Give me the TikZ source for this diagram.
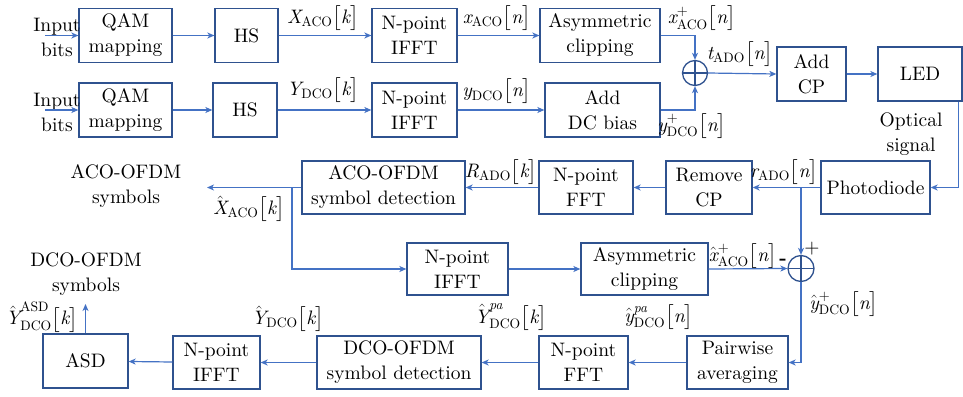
\documentclass[tikz,border=0pt]{standalone}
\usepackage{fontspec}
\setmainfont{lmroman10}[Extension=.otf, UprightFont=*-regular, ItalicFont=*-italic, BoldFont=*-bold, BoldItalicFont=*-bolditalic]
\usepackage{amsmath}
\usetikzlibrary{arrows.meta}
\definecolor{boxblue}{RGB}{47,82,143}
\definecolor{linblue}{RGB}{68,114,196}
\newcommand{\tv}[1]{\text{\itshape #1}}
\newcommand{\tr}[1]{\text{\upshape #1}}
\begin{document}
\begin{tikzpicture}[x=1pt,y=-1pt,
  font=\fontsize{19.5}{25}\selectfont,
  blk/.style={draw=boxblue, line width=1.3pt, minimum height=54, align=center, inner sep=0pt},
  arr/.style={draw=linblue, line width=1.2pt, -{Stealth[length=7pt,width=6pt,inset=2pt]}},
  ln/.style={draw=linblue, line width=1.2pt},
  lbl/.style={inner sep=0pt},
  txt/.style={inner sep=0pt, align=center},
  sumnode/.style={circle, draw=boxblue, line width=1.3pt, minimum size=25, inner sep=0pt,
    path picture={\draw[boxblue, line width=1.3pt] (path picture bounding box.north) -- (path picture bounding box.south)
      (path picture bounding box.west) -- (path picture bounding box.east);}}]
\useasboundingbox (0,0) rectangle (963,396);

% transmitter row 1
\node[blk, minimum width=93] (qam1) at (125.5,35.5) {QAM\\mapping};
\node[blk, minimum width=63] (hs1) at (246.5,35.5) {HS};
\node[blk, minimum width=85] (ifft1) at (414.5,35.5) {N-point\\IFFT};
\node[blk, minimum width=120] (asym1) at (600,35.5) {Asymmetric\\clipping};
% transmitter row 2
\node[blk, minimum width=93] (qam2) at (125.5,110) {QAM\\mapping};
\node[blk, minimum width=64] (hs2) at (245,110) {HS};
\node[blk, minimum width=85] (ifft2) at (414.5,110) {N-point\\IFFT};
\node[blk, minimum width=115] (dcb) at (602.5,110) {Add\\DC bias};
\node[sumnode] (s1) at (695,73) {};
\node[blk, minimum width=69] (addcp) at (811.5,74) {Add\\CP};
\node[blk, minimum width=84] (led) at (920,74) {LED};

% receiver
\node[blk, minimum width=109, minimum height=53] (pd) at (875.5,187.5) {Photodiode};
\node[blk, minimum width=86, minimum height=53] (rcp) at (709,187.5) {Remove\\CP};
\node[blk, minimum width=94, minimum height=53] (fft1) at (586,187.5) {N-point\\FFT};
\node[blk, minimum width=163, minimum height=53] (acodet) at (383.5,187.5) {ACO-OFDM\\symbol detection};
\node[blk, minimum width=101, minimum height=52] (ifft3) at (457.5,269) {N-point\\IFFT};
\node[blk, minimum width=127, minimum height=52] (asym2) at (644.5,269) {Asymmetric\\clipping};
\node[sumnode, minimum size=26] (s2) at (801,268.5) {};
\node[blk, minimum width=101, minimum height=53] (pa) at (737.5,362.5) {Pairwise\\averaging};
\node[blk, minimum width=89, minimum height=53] (fft2) at (583.5,362.5) {N-point\\FFT};
\node[blk, minimum width=164, minimum height=53] (dcodet) at (399,362.5) {DCO-OFDM\\symbol detection};
\node[blk, minimum width=87, minimum height=53] (ifft4) at (216.5,362.5) {N-point\\IFFT};
\node[blk, minimum width=85, minimum height=54] (asd) at (85.5,361) {ASD};

% free texts
\node[txt] (inb1) at (57,37) {Input\\bits};
\node[txt] (inb2) at (57,112) {Input\\bits};
\node[txt] (opt) at (911,134) {Optical\\signal};
\node[txt] (acosym) at (126,186) {ACO-OFDM\\symbols};
\node[txt] (dcosym) at (86,274) {DCO-OFDM\\symbols};

% coordinates
\coordinate (in1) at (45,35.5);
\coordinate (in2) at (45,110);
\coordinate (acoout) at (207,187.5);
\coordinate (br1) at (292,187.5);
\coordinate (asdout) at (85.5,304);

% transmitter connectors
\draw[arr] (in1) -- (qam1.west);
\draw[arr] (in2) -- (qam2.west);
\draw[arr] (qam1) -- (hs1);
\draw[arr] (hs1) -- (ifft1);
\draw[arr] (ifft1) -- (asym1);
\draw[arr] (qam2) -- (hs2);
\draw[arr] (hs2) -- (ifft2);
\draw[arr] (ifft2) -- (dcb);
\draw[arr] (asym1.east) -| (s1.north);
\draw[arr] (dcb.east) -| (s1.south);
\draw[arr] (s1.east) -- (addcp.west);
\draw[arr] (addcp) -- (led);
\draw[arr] ([xshift=-4pt]led.south east) |- (pd.east);

% receiver connectors
\draw[arr] (pd) -- (rcp);
\draw[arr] (s2.north |- pd.west) -- (s2.north);
\draw[arr] (rcp) -- (fft1);
\draw[arr] (fft1) -- (acodet);
\draw[arr] (acodet.west) -- (acoout);
\draw[arr] (br1) |- (ifft3.west);
\draw[arr] (ifft3) -- (asym2);
\draw[arr] (asym2.east) -- (s2.west);
\draw[arr] (s2.south) |- (pa.east);
\draw[arr] (pa) -- (fft2);
\draw[arr] (fft2) -- (dcodet);
\draw[arr] (dcodet) -- (ifft4);
\draw[arr] (ifft4) -- (asd);
\draw[arr] (asd.north) -- (asdout);

% labels
\node[lbl] (l1) at (323,18.5) {$\tv{X}_{\tr{ACO}}\big[\tv{k}\big]$};
\node[lbl] (l2) at (323,90) {$\tv{Y}_{\tr{DCO}}\big[\tv{k}\big]$};
\node[lbl] (l3) at (497,18.5) {$\tv{x}_{\tr{ACO}}\big[\tv{n}\big]$};
\node[lbl] (l4) at (497,91) {$\tv{y}_{\tr{DCO}}\big[\tv{n}\big]$};
\node[lbl] (l5) at (702,18.5) {$\tv{x}^{+}_{\tr{ACO}}\big[\tv{n}\big]$};
\node[lbl] (l6) at (692,126) {$\tv{y}^{+}_{\tr{DCO}}\big[\tv{n}\big]$};
\node[lbl] (l7) at (740,54) {$\tv{t}_{\tr{ADO}}\big[\tv{n}\big]$};
\node[lbl] (l8) at (784,172) {$\tv{r}_{\tr{ADO}}\big[\tv{n}\big]$};
\node[lbl] (l9) at (501,172) {$\tv{R}_{\tr{ADO}}\big[\tv{k}\big]$};
\node[lbl] (l10) at (249,209) {$\hat{\tv{X}}_{\tr{ACO}}\big[\tv{k}\big]$};
\node[lbl] (l11) at (743,256) {$\hat{\tv{x}}^{+}_{\tr{ACO}}\big[\tv{n}\big]$};
\node[lbl] (minus) at (783,262) {\textbf{-}};
\node[lbl] (plus) at (812,249) {+};
\node[lbl] (l12) at (844,304) {$\hat{\tv{y}}^{+}_{\tr{DCO}}\big[\tv{n}\big]$};
\node[lbl] (l13) at (659,317) {$\hat{\tv{y}}^{\tv{pa}}_{\tr{DCO}}\big[\tv{n}\big]$};
\node[lbl] (l14) at (511,317) {$\hat{\tv{Y}}^{\tv{pa}}_{\tr{DCO}}\big[\tv{k}\big]$};
\node[lbl] (l15) at (288,319) {$\hat{\tv{Y}}_{\tr{DCO}}\big[\tv{k}\big]$};
\node[lbl] (l16) at (42,317) {$\hat{\tv{Y}}^{\tr{ASD}}_{\tr{DCO}}\big[\tv{k}\big]$};
\end{tikzpicture}
\end{document}
